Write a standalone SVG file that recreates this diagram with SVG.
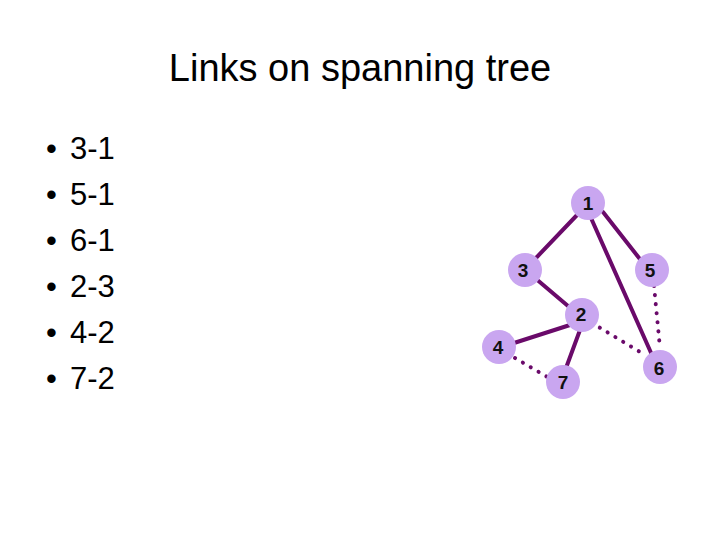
<svg xmlns="http://www.w3.org/2000/svg" width="720" height="540" viewBox="0 0 720 540">
<style>
.t{font-family:"Liberation Sans",Arial,sans-serif;fill:#000}
.l{stroke:#6a0a6a;stroke-width:4;stroke-linecap:round}
.d{stroke:#6a0a6a;stroke-width:4;stroke-dasharray:0.1 9;stroke-linecap:round}
.n circle{fill:#c9a6f0}
.n text{font-family:"Liberation Sans",Arial,sans-serif;font-weight:bold;font-size:19px;text-anchor:middle;fill:#111}
</style>
<rect width="720" height="540" fill="#fff"/>
<text class="t" x="360" y="81" font-size="38" text-anchor="middle">Links on spanning tree</text>
<g class="t" font-size="31">
<text x="46" y="159">•</text><text x="70" y="159">3-1</text>
<text x="46" y="205">•</text><text x="70" y="205">5-1</text>
<text x="46" y="251">•</text><text x="70" y="251">6-1</text>
<text x="46" y="297">•</text><text x="70" y="297">2-3</text>
<text x="46" y="343">•</text><text x="70" y="343">4-2</text>
<text x="46" y="389">•</text><text x="70" y="389">7-2</text>
</g>
<g id="connectors">
<line class="l" x1="578" y1="214" x2="535" y2="259"/>
<line class="l" x1="603" y1="212" x2="643" y2="263"/>
<line class="l" x1="591" y1="218" x2="652" y2="355"/>
<line class="l" x1="535" y1="278" x2="568" y2="306"/>
<line class="l" x1="570" y1="325" x2="514" y2="343"/>
<line class="l" x1="580" y1="330" x2="566" y2="368"/>
<line class="d" x1="654" y1="286" x2="660" y2="348"/>
<line class="d" x1="592" y1="323" x2="645" y2="355"/>
<line class="d" x1="515" y1="358" x2="549" y2="378"/>
</g>
<g id="n1" class="n"><circle cx="588" cy="203" r="17"/><text x="588" y="210">1</text></g>
<g id="n3" class="n"><circle cx="525" cy="270" r="17"/><text x="523" y="277">3</text></g>
<g id="n5" class="n"><circle cx="652" cy="270" r="17"/><text x="650" y="277">5</text></g>
<g id="n2" class="n"><circle cx="582" cy="315" r="17"/><text x="581" y="321">2</text></g>
<g id="n4" class="n"><circle cx="499" cy="347" r="17"/><text x="498" y="354">4</text></g>
<g id="n7" class="n"><circle cx="563" cy="382" r="17"/><text x="563" y="389">7</text></g>
<g id="n6" class="n"><circle cx="660" cy="367" r="17"/><text x="659" y="375">6</text></g>
</svg>
